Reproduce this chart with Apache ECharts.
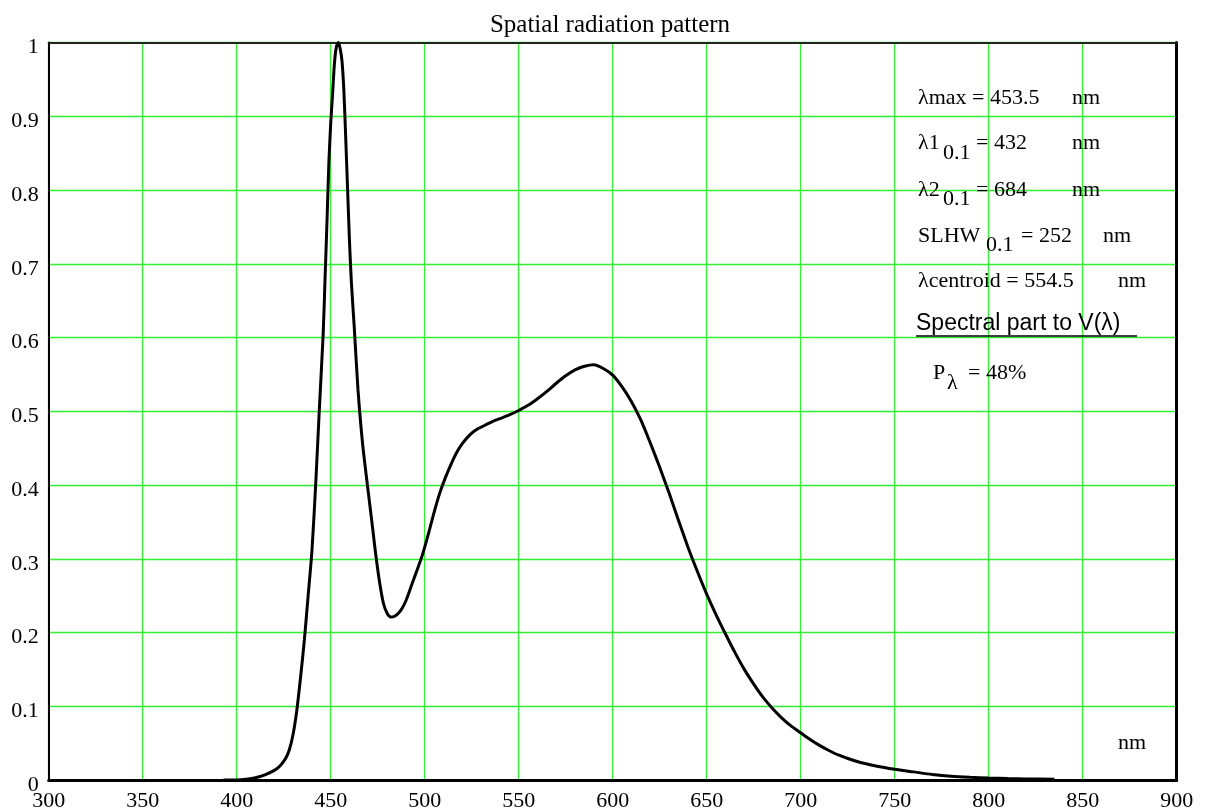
<!DOCTYPE html>
<html>
<head>
<meta charset="utf-8">
<script src="https://cdn.jsdelivr.net/npm/echarts@6/dist/echarts.min.js"></script>
<style>
html,body{margin:0;padding:0;background:#fff;}
#chart{width:1213px;height:812px;}
</style>
</head>
<body>
<div id="chart"></div>
<script>
// ---- data ----
const TITLE = 'Spatial radiation pattern';
const X_TICKS = {min: 300, max: 900, step: 50};
const Y_TICKS = {min: 0, max: 1, step: 0.1};
const X_UNIT = 'nm';
const WAVELENGTH = [393,400,405,410,415,420,423,426,428,430,432,434,436,438,440,442,444,446,447,448,449,450,451,452,453,454,455,456,457,458,459,460,461,462.5,464.5,467,470,472,474,476,478,480,482,484,486,488,490,493,496,499,502,505,508,511,514,517,520,524,528,532,536,540,545,550,555,560,565,570,575,580,585,590,595,600,605,610,615,620,625,630,635,640,645,650,655,660,665,670,675,680,685,690,695,700,705,710,715,720,730,740,750,760,770,780,790,800,810,820,835];
const INTENSITY = [0,0,0.001,0.003,0.007,0.013,0.019,0.029,0.041,0.062,0.095,0.14,0.19,0.25,0.31,0.40,0.505,0.605,0.68,0.755,0.835,0.89,0.93,0.972,0.994,1.0,0.992,0.975,0.935,0.87,0.80,0.73,0.675,0.615,0.53,0.455,0.39,0.348,0.305,0.268,0.24,0.226,0.221,0.222,0.226,0.233,0.243,0.264,0.285,0.307,0.334,0.363,0.389,0.41,0.428,0.444,0.456,0.468,0.476,0.481,0.486,0.490,0.495,0.501,0.508,0.517,0.527,0.538,0.548,0.556,0.561,0.563,0.558,0.549,0.533,0.513,0.488,0.457,0.424,0.389,0.352,0.316,0.283,0.252,0.224,0.198,0.173,0.150,0.130,0.112,0.097,0.084,0.073,0.064,0.055,0.047,0.040,0.034,0.025,0.019,0.0145,0.011,0.0075,0.005,0.0036,0.0027,0.002,0.0015,0.001];
const ANNOT = {
  lmax: ['λmax = 453.5', 'nm'],
  l1: ['λ1', '0.1', '= 432', 'nm'],
  l2: ['λ2', '0.1', '= 684', 'nm'],
  slhw: ['SLHW', '0.1', '= 252', 'nm'],
  centroid: ['λcentroid = 554.5', 'nm'],
  vpart: 'Spectral part to V(λ)',
  p: ['P', 'λ', '= 48%']
};

// ---- chart ----
const SERIF = '"Liberation Serif", "Times New Roman", serif';
const SANS = '"Liberation Sans", Arial, sans-serif';
const GREEN = '#33f033';
const chart = echarts.init(document.getElementById('chart'));
const points = WAVELENGTH.map((w, i) => [w, INTENSITY[i]]);

function t(x, baseline, text, font, size) {
  return {type: 'text', x: x, y: baseline - 7, z: 100,
    style: {text: text, fontFamily: font || SERIF, fontSize: size || 22, fill: '#000', align: 'left', verticalAlign: 'middle'}};
}

const graphics = [
  t(918, 105, ANNOT.lmax[0]), t(1072, 105, ANNOT.lmax[1]),
  t(918, 150, ANNOT.l1[0]), t(943, 160, ANNOT.l1[1]), t(976, 150, ANNOT.l1[2]), t(1072, 150, ANNOT.l1[3]),
  t(918, 197, ANNOT.l2[0]), t(943, 206, ANNOT.l2[1]), t(976, 197, ANNOT.l2[2]), t(1072, 197, ANNOT.l2[3]),
  t(918, 243, ANNOT.slhw[0]), t(986, 252, ANNOT.slhw[1]), t(1021, 243, ANNOT.slhw[2]), t(1103, 243, ANNOT.slhw[3]),
  t(918, 288, ANNOT.centroid[0]), t(1118, 288, ANNOT.centroid[1]),
  t(916, 331, ANNOT.vpart, SANS, 23),
  {type: 'line', z: 100, shape: {x1: 916, y1: 336, x2: 1137, y2: 336}, style: {stroke: '#000', lineWidth: 1.5}},
  t(933, 380, ANNOT.p[0]), t(947, 390, ANNOT.p[1]), t(968, 380, ANNOT.p[2]),
  t(1118, 750, X_UNIT)
];

chart.setOption({
  animation: false,
  backgroundColor: '#fff',
  title: {text: TITLE, left: 605, top: 8, textAlign: 'center',
    textStyle: {fontFamily: SERIF, fontSize: 25, fontWeight: 'normal', color: '#000'}},
  grid: {left: 48.7, right: 36.3, top: 42.5, bottom: 32, containLabel: false},
  xAxis: [{
    type: 'value', position: 'bottom', min: X_TICKS.min, max: X_TICKS.max, interval: X_TICKS.step,
    axisLine: {show: true, onZero: false, lineStyle: {color: '#000', width: 3}},
    axisTick: {show: false},
    axisLabel: {color: '#000', fontFamily: SERIF, fontSize: 22, margin: 10},
    splitLine: {show: true, lineStyle: {color: GREEN, width: 1.3}}
  }, {
    type: 'value', position: 'top', min: X_TICKS.min, max: X_TICKS.max, interval: X_TICKS.step,
    axisLine: {show: true, onZero: false, lineStyle: {color: '#222', width: 2}},
    axisTick: {show: false}, axisLabel: {show: false}, splitLine: {show: false}
  }],
  yAxis: [{
    type: 'value', position: 'left', min: Y_TICKS.min, max: Y_TICKS.max, interval: Y_TICKS.step,
    axisLine: {show: true, onZero: false, lineStyle: {color: '#000', width: 2}},
    axisTick: {show: false},
    axisLabel: {color: '#000', fontFamily: SERIF, fontSize: 22, margin: 10, verticalAlign: 'top', lineHeight: 10},
    splitLine: {show: true, lineStyle: {color: GREEN, width: 1.3}}
  }, {
    type: 'value', position: 'right', min: Y_TICKS.min, max: Y_TICKS.max, interval: Y_TICKS.step,
    axisLine: {show: true, onZero: false, lineStyle: {color: '#000', width: 3}},
    axisTick: {show: false}, axisLabel: {show: false}, splitLine: {show: false}
  }],
  series: [{
    type: 'line', data: points, xAxisIndex: 0, yAxisIndex: 0,
    showSymbol: false, symbol: 'none', smooth: 0.25,
    lineStyle: {color: '#000', width: 3}, z: 10
  }],
  graphic: graphics
});
</script>
</body>
</html>
